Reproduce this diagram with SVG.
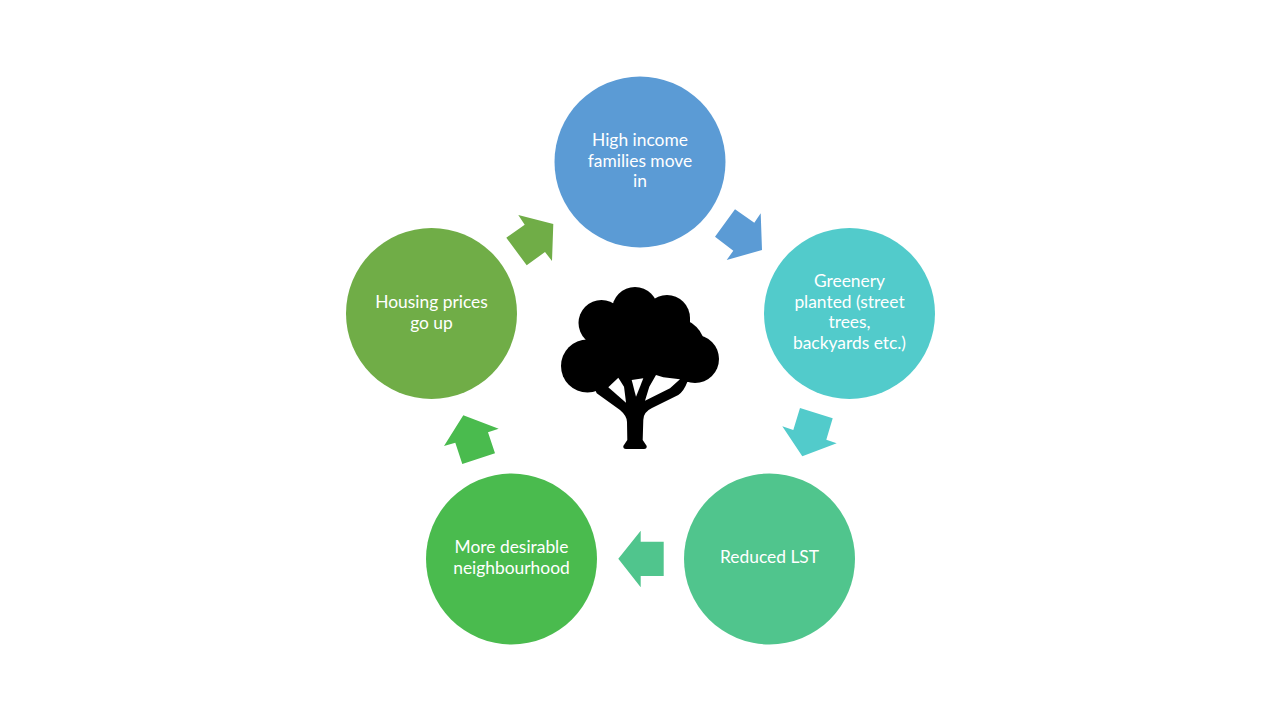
<svg xmlns="http://www.w3.org/2000/svg" width="1280" height="720" viewBox="0 0 1280 720">
<style>
.l{font-family:"Lato","Open Sans",sans-serif;font-size:17.4px;fill:#fff;text-anchor:middle}
.a{fill:#5b9bd5}.b{fill:#52cbcb}.c{fill:#50c58d}.d{fill:#4abb4e}.e{fill:#70ad47}
</style>
<rect width="1280" height="720" fill="#fff"/>
<g id="connectors">
<polygon class="a" points="735,209.3 754.3,222.7 760.7,213.3 762,250 726.7,260 733.3,250.7 715,236.7"/>
<polygon class="b" points="800,408 832.7,418.3 826.3,439.7 836.7,443.3 802.3,456.3 782.3,426.3 793.3,430"/>
<polygon class="c" points="618.3,558.7 640.7,530.7 640.7,541.7 663.7,541.7 663.7,576 640.7,576 640.7,587.3"/>
<polygon class="d" points="463.3,415.3 498.7,428.7 488,432.3 495,453.3 462.3,464 455.3,442.7 444,446"/>
<polygon class="e" points="518.3,215 553.3,224 552,261 545,252 526.7,265.3 506.3,237.7 524.7,224.7"/>
</g>
<g id="node-high-income">
<circle class="a" cx="640" cy="162" r="85.5"/>
<text class="l" x="640" y="145.500">High income</text><text class="l" x="640" y="166.500">families move</text><text class="l" x="640" y="187">in</text>
</g>
<g id="node-greenery">
<circle class="b" cx="849.500" cy="313.500" r="85.5"/>
<text class="l" x="849.500" y="287">Greenery</text><text class="l" x="849.500" y="307.500">planted (street</text><text class="l" x="849.500" y="328">trees,</text><text class="l" x="849.500" y="348.500">backyards etc.)</text>
</g>
<g id="node-reduced-lst">
<circle class="c" cx="769.500" cy="559" r="85.5"/>
<text class="l" x="769.500" y="563">Reduced LST</text>
</g>
<g id="node-desirable">
<circle class="d" cx="511.500" cy="559" r="85.5"/>
<text class="l" x="511.500" y="552.500">More desirable</text><text class="l" x="511.500" y="573.500">neighbourhood</text>
</g>
<g id="node-housing">
<circle class="e" cx="431.500" cy="313.500" r="85.5"/>
<text class="l" x="431.500" y="307.500">Housing prices</text><text class="l" x="431.500" y="328.500">go up</text>
</g>
<g id="tree">
<circle cx="587.500" cy="366" r="26.500"/>
<circle cx="601.500" cy="323" r="23"/>
<circle cx="635" cy="310" r="23"/>
<circle cx="667" cy="318" r="23"/>
<circle cx="676.700" cy="346.700" r="28"/>
<circle cx="695" cy="359" r="24"/>
<path d="M590 318H690V382H590Z"/>
<path d="M590 378L696.700 378L687.300 382Q684 391 678.300 395L652 408Q643.300 412 643.300 420L642.700 440L646.700 446Q647 449 644 449L626 449Q623 449 623.300 446L627.300 440L627 422Q627 416 620 410L596.700 393.300Z"/>
<path d="M608.300 387.300L626 402.700L624 386.700L618.300 377.700Z" fill="#fff"/>
<path d="M636 396.700L640 386.700L643.300 378.300L631.700 380Z" fill="#fff"/>
<path d="M645 400.700L670 388.300L680 379.300L663.300 377.300L656 375L649.300 386.700Z" fill="#fff"/>
</g>
</svg>
